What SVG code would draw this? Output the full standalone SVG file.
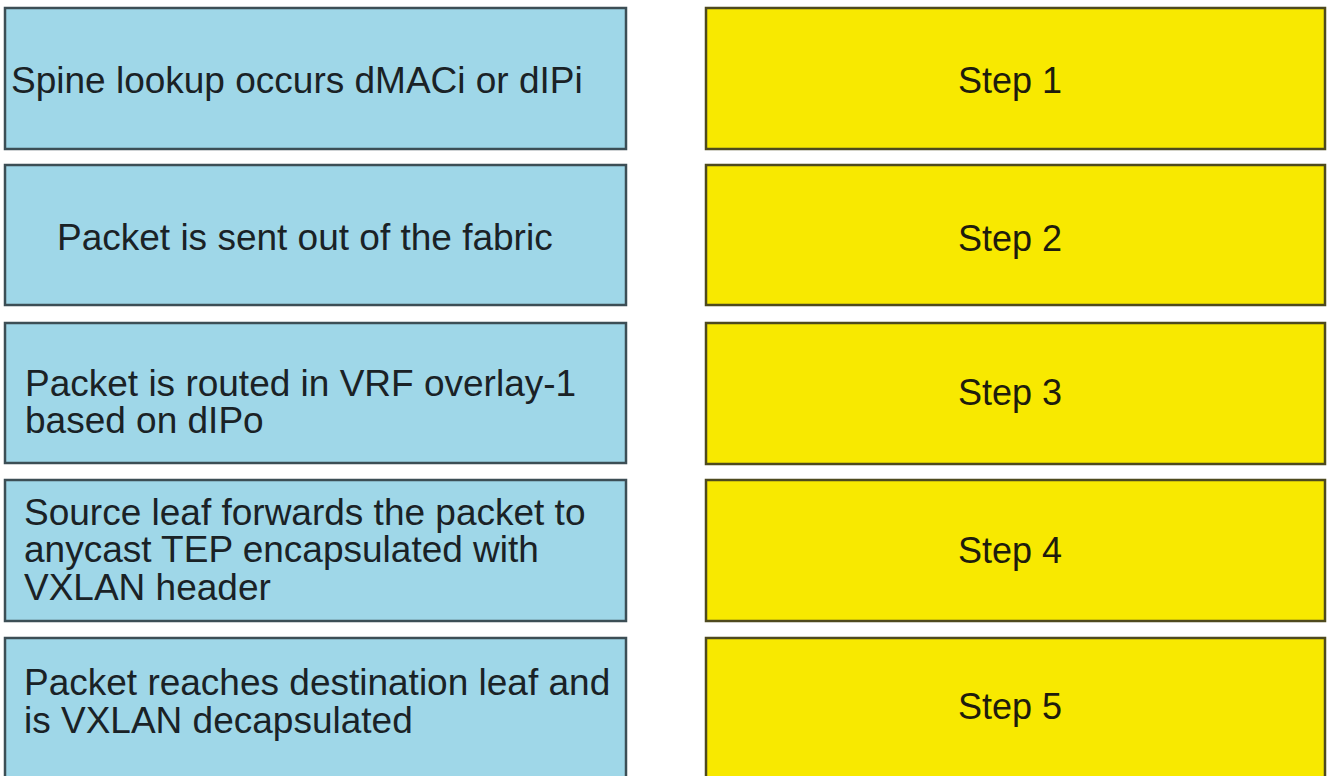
<svg xmlns="http://www.w3.org/2000/svg" width="1328" height="776" viewBox="0 0 1328 776">
<style>
.bg{fill:#ffffff}
.src rect{fill:#9fd7e8;stroke:#3c4e55;stroke-width:2.5}
.step rect{fill:#f8e900;stroke:#4e4a1e;stroke-width:2.5}
text{font-family:"Liberation Sans",Arial,sans-serif;fill:#1a2226}
.src text{font-size:37px}
.step text{font-size:36px;text-anchor:middle;fill:#1e1c0c}
</style>
<rect class="bg" x="0" y="0" width="1328" height="776"/>
<g id="src1" class="src"><rect x="5" y="8" width="621" height="141"/><text x="11" y="93">Spine lookup occurs dMACi or dIPi</text></g>
<g id="src2" class="src"><rect x="5" y="165" width="621" height="140"/><text x="57" y="250">Packet is sent out of the fabric</text></g>
<g id="src3" class="src"><rect x="5" y="323" width="621" height="140"/><text x="25" y="396">Packet is routed in VRF overlay-1</text><text x="25" y="433">based on dIPo</text></g>
<g id="src4" class="src"><rect x="5" y="480" width="621" height="141"/><text x="24" y="525">Source leaf forwards the packet to</text><text x="24" y="562">anycast TEP encapsulated with</text><text x="24" y="600">VXLAN header</text></g>
<g id="src5" class="src"><rect x="5" y="638" width="621" height="145"/><text x="24" y="695">Packet reaches destination leaf and</text><text x="24" y="733">is VXLAN decapsulated</text></g>
<g id="step1" class="step"><rect x="706" y="8" width="619" height="141"/><text x="1010" y="93">Step 1</text></g>
<g id="step2" class="step"><rect x="706" y="165" width="619" height="140"/><text x="1010" y="251">Step 2</text></g>
<g id="step3" class="step"><rect x="706" y="323" width="619" height="141"/><text x="1010" y="405">Step 3</text></g>
<g id="step4" class="step"><rect x="706" y="480" width="619" height="141"/><text x="1010" y="563">Step 4</text></g>
<g id="step5" class="step"><rect x="706" y="638" width="619" height="145"/><text x="1010" y="719">Step 5</text></g>
<g id="connectors"></g>
</svg>
